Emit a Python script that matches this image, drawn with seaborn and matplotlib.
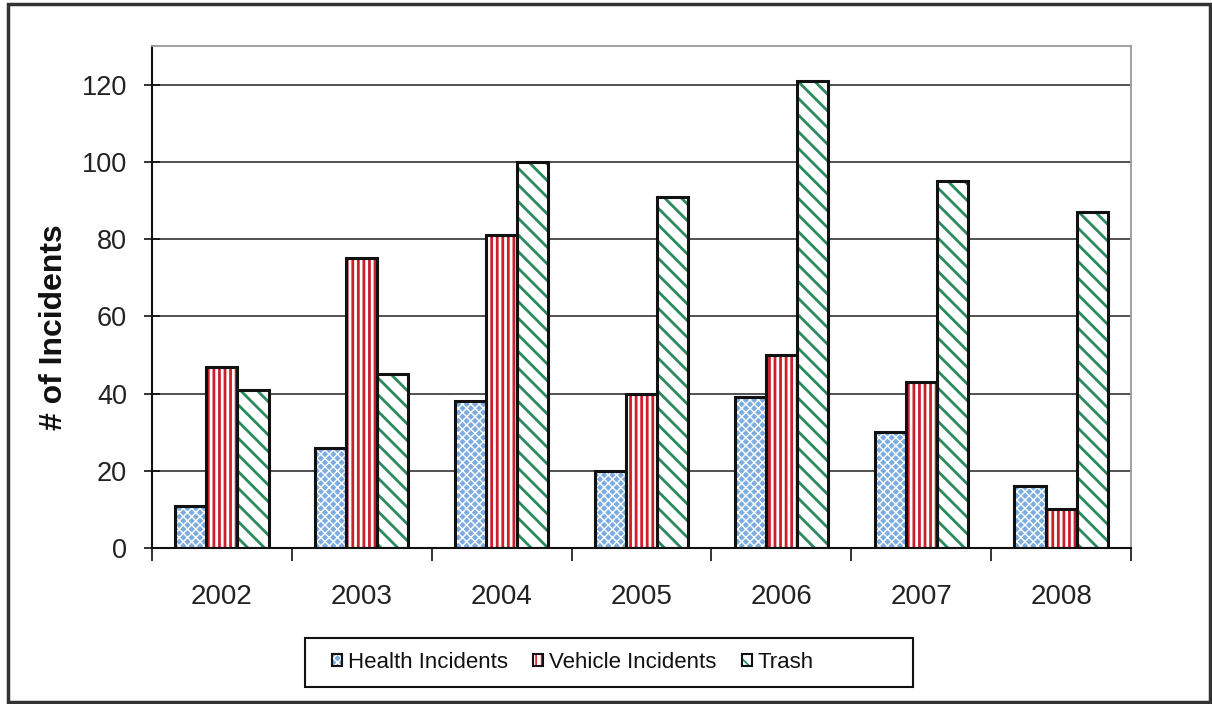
import matplotlib
matplotlib.use("Agg")
import matplotlib.pyplot as plt
from matplotlib.patches import Rectangle
from matplotlib.legend_handler import HandlerBase
from matplotlib.ticker import FixedLocator
import numpy as np
import pandas as pd
import seaborn as sns

# Yearly incident counts
years = ["2002", "2003", "2004", "2005", "2006", "2007", "2008"]
health = [11, 26, 38, 20, 39, 30, 16]
vehicle = [47, 75, 81, 40, 50, 43, 10]
trash = [41, 45, 100, 91, 121, 95, 87]
series_names = ["Health Incidents", "Vehicle Incidents", "Trash"]
y_ticks = [0, 20, 40, 60, 80, 100, 120]

df = pd.DataFrame({
    "Year": years * 3,
    "Count": health + vehicle + trash,
    "Series": [series_names[0]] * len(years)
    + [series_names[1]] * len(years)
    + [series_names[2]] * len(years),
})

sns.set_theme(style="white")
plt.rcParams["font.family"] = ["Liberation Sans", "DejaVu Sans"]
plt.rcParams["hatch.linewidth"] = 2.0

# face colour, hatch colour, hatch pattern, hatch width per series
styles = {
    "Health Incidents": ("#7dade0", "#ffffff", "xxxx", 1.0),
    "Vehicle Incidents": ("#ffffff", "#cc1f2b", "|||", 2.0),
    "Trash": ("#ffffff", "#2b8a5c", "\\\\", 2.0),
}


class Swatch:
    """Legend key: a hatched square with a dark outline."""
    def __init__(self, fc, hc, hatch, hlw):
        self.fc, self.hc, self.hatch, self.hlw = fc, hc, hatch, hlw


class SwatchHandler(HandlerBase):
    def create_artists(self, legend, orig_handle, xdescent, ydescent,
                       width, height, fontsize, trans):
        inner = Rectangle((-xdescent, -ydescent), width, height,
                          facecolor=orig_handle.fc, edgecolor=orig_handle.hc,
                          hatch=orig_handle.hatch, linewidth=0, transform=trans)
        if hasattr(inner, "set_hatch_linewidth"):
            inner.set_hatch_linewidth(min(orig_handle.hlw, 1.2))
        outer = Rectangle((-xdescent, -ydescent), width, height, fill=False,
                          edgecolor="#111111", linewidth=1.5, transform=trans)
        return [inner, outer]


fig = plt.figure(figsize=(12.12, 7.04), dpi=100)
ax = fig.add_axes([152 / 1212, 1 - 548 / 704, (1131 - 152) / 1212, (548 - 46) / 704])

sns.barplot(
    data=df, x="Year", y="Count", hue="Series", hue_order=series_names,
    order=years, width=0.667, gap=0, dodge=True, ax=ax, legend=False,
    palette=[styles[s][0] for s in series_names], saturation=1,
)

for container, name in zip(ax.containers, series_names):
    fc, hc, hatch, hlw = styles[name]
    for bar in container:
        bar.set_facecolor(fc)
        bar.set_edgecolor(hc)
        bar.set_hatch(hatch)
        bar.set_linewidth(0)
        if hasattr(bar, "set_hatch_linewidth"):
            bar.set_hatch_linewidth(hlw)
        ax.add_patch(Rectangle(bar.get_xy(), bar.get_width(), bar.get_height(),
                               fill=False, edgecolor="#111111", linewidth=2.2,
                               zorder=bar.get_zorder() + 0.1))

ax.set_ylim(0, 130)
ax.set_xlim(-0.5, len(years) - 0.5)
ax.set_yticks(y_ticks)
ax.yaxis.grid(True, color="#222222", linewidth=1.1)
ax.xaxis.grid(False)
ax.set_axisbelow(True)

ax.set_xlabel("")
ax.set_ylabel("# of Incidents", fontsize=23, fontweight="bold", color="#111111")
ax.yaxis.set_label_coords(-0.085, 0.44)
ax.tick_params(axis="y", which="major", direction="inout", length=12, width=1.2,
               color="#111111", labelsize=19.5, pad=12, labelcolor="#222222", left=True)
ax.tick_params(axis="x", which="major", length=0, labelsize=20, pad=26, labelcolor="#222222")
ax.xaxis.set_minor_locator(FixedLocator(np.arange(-0.5, len(years), 1.0)))
ax.tick_params(axis="x", which="minor", direction="out", length=9, width=1.2,
               color="#111111", bottom=True)

for side in ["left", "bottom"]:
    ax.spines[side].set_color("#111111")
    ax.spines[side].set_linewidth(1.5)
for side in ["top", "right"]:
    ax.spines[side].set_visible(True)
    ax.spines[side].set_color("#9a9a9a")
    ax.spines[side].set_linewidth(1.3)

keys = [Swatch(*styles[name]) for name in series_names]
leg = fig.legend(
    keys, series_names, loc="center left",
    bbox_to_anchor=(332 / 1212, 1 - 662.5 / 704),
    ncol=3, frameon=False, fontsize=16,
    handler_map={Swatch: SwatchHandler()},
    handlelength=0.45, handleheight=0.45, handletextpad=0.25,
    columnspacing=1.15, borderpad=0.0, borderaxespad=0.0,
)
for t in leg.get_texts():
    t.set_color("#111111")

# legend box
fig.patches.append(Rectangle((305 / 1212, 1 - 687 / 704), 608 / 1212, 49 / 704,
                             transform=fig.transFigure, fill=False,
                             edgecolor="#111111", linewidth=1.5))

# outer frame around the whole chart
fig.patches.append(Rectangle((8 / 1212, 2 / 704), 1202 / 1212, 698 / 704,
                             transform=fig.transFigure, fill=False,
                             edgecolor="#333333", linewidth=2.5))

fig.savefig("out.png", dpi=100, facecolor="white")
